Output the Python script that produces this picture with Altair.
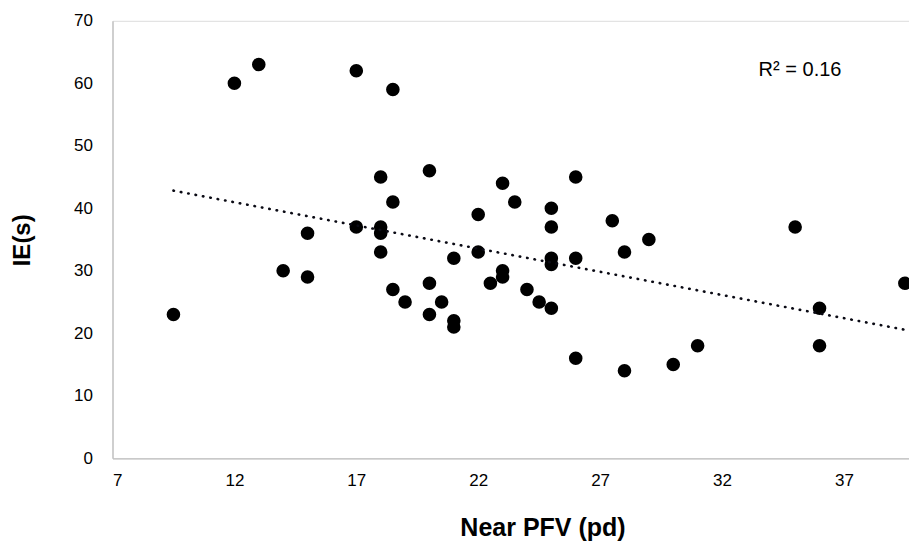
import altair as alt
import pandas as pd

# Near PFV (pd) values and IE(s) values
near_pfv = [9.5, 12, 13, 14, 15, 15, 17, 17, 18, 18, 18, 18, 18.5, 18.5, 18.5, 19,
            20, 20, 20, 20.5, 21, 21, 21, 22, 22, 22.5, 23, 23, 23, 23.5, 24, 24.5,
            25, 25, 25, 25, 25, 26, 26, 26, 27.5, 28, 28, 29, 30, 31, 35, 36, 36, 39.5]
ie_s = [23, 60, 63, 30, 36, 29, 62, 37, 45, 37, 36, 33, 59, 41, 27, 25,
        46, 28, 23, 25, 32, 22, 21, 39, 33, 28, 44, 30, 29, 41, 27, 25,
        40, 37, 32, 31, 24, 45, 32, 16, 38, 33, 14, 35, 15, 18, 37, 24, 18, 28]

x_ticks = [7, 12, 17, 22, 27, 32, 37]
y_ticks = [0, 10, 20, 30, 40, 50, 60, 70]
r2_text = ["R\u00b2 = 0.16"]

df = pd.DataFrame({"pfv": near_pfv, "ie": ie_s})
df_label = pd.DataFrame({"label": r2_text})

FONT = "Liberation Sans"

x_enc = alt.X(
    "pfv:Q",
    scale=alt.Scale(domain=[7, 39.67], nice=False, zero=False),
    axis=alt.Axis(
        values=x_ticks, title="Near PFV (pd)", grid=False, ticks=False,
        domainColor="#bfbfbf", domainWidth=1.3,
        labelFont=FONT, labelFontSize=17, labelColor="#000000", labelPadding=14,
        titleFont=FONT, titleFontSize=25, titleFontWeight="bold", titleColor="#000000",
        titleX=430, titleY=69, titleAlign="center", titleBaseline="middle", titleAngle=0,
    ),
)
y_enc = alt.Y(
    "ie:Q",
    scale=alt.Scale(domain=[0, 70], nice=False),
    axis=alt.Axis(
        values=y_ticks, title="IE(s)", grid=False, ticks=False,
        domainColor="#bfbfbf", domainWidth=1.3,
        labelFont=FONT, labelFontSize=17, labelColor="#000000", labelPadding=20,
        titleFont=FONT, titleFontSize=24, titleFontWeight="bold", titleColor="#000000",
        titleX=-90, titleY=219, titleAlign="center", titleBaseline="middle", titleAngle=270,
    ),
)

base = alt.Chart(df)

points = base.mark_circle(size=185, color="#000000", opacity=1, clip=False).encode(x=x_enc, y=y_enc)

trend = base.transform_regression("pfv", "ie", method="linear").mark_line(
    color="#0a0a14", strokeWidth=2.6, strokeDash=[0.5, 7], strokeCap="round"
).encode(x=alt.X("pfv:Q"), y=alt.Y("ie:Q"))

label = alt.Chart(df_label).mark_text(
    font=FONT, fontSize=20, fontWeight="normal", color="#000000", align="center", baseline="middle"
).encode(x=alt.datum(35.2), y=alt.datum(62.1), text="label:N")

chart = alt.layer(points, trend, label).properties(
    width=796.5,
    height=437.5,
    padding={"left": 112.5, "top": 20.8, "right": 0, "bottom": 89.7},
    autosize=alt.AutoSizeParams(type="none"),
).configure_view(stroke=None).configure(background="#ffffff")

chart.save("out.html", embed_options={"renderer": "svg", "actions": False})
